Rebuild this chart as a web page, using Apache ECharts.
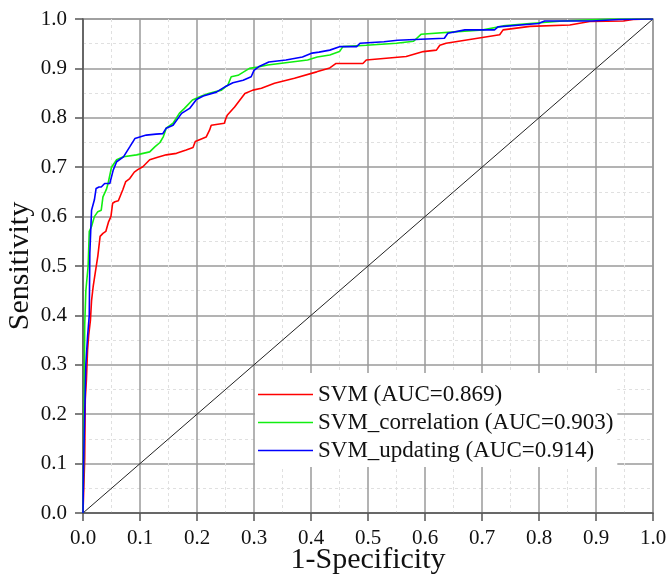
<!doctype html>
<html lang="en">
<head>
    <meta charset="utf-8">
    <title>ROC curves</title>
    <script src="https://cdn.jsdelivr.net/npm/echarts@6/dist/echarts.min.js"></script>
    <style>
        html, body { margin: 0; padding: 0; background: #fff; }
        #mychart { width: 666px; height: 574px; }
    </style>
</head>
<body>
    <div id="mychart"></div>

    <script type="text/javascript">
        // legend names
        var seriesNames = ['SVM (AUC=0.869)', 'SVM_correlation (AUC=0.903)', 'SVM_updating (AUC=0.914)'];
        var seriesColors = ['#ff0000', '#11ee11', '#0000ff'];

        // [1-specificity, sensitivity]
        var svmRoc = [
            [0, 0], [0.003, 0.11], [0.004, 0.23], [0.006, 0.27], [0.008, 0.33], [0.010, 0.36],
            [0.013, 0.39], [0.015, 0.43], [0.018, 0.46], [0.022, 0.49], [0.026, 0.52], [0.030, 0.56],
            [0.035, 0.566], [0.040, 0.57], [0.045, 0.59], [0.049, 0.60], [0.052, 0.627], [0.056, 0.63],
            [0.062, 0.632], [0.070, 0.655], [0.075, 0.671], [0.082, 0.677], [0.090, 0.69], [0.096, 0.695],
            [0.105, 0.701], [0.117, 0.715], [0.131, 0.72], [0.146, 0.725], [0.164, 0.728], [0.181, 0.735],
            [0.193, 0.74], [0.197, 0.752], [0.216, 0.761], [0.222, 0.775], [0.225, 0.785], [0.248, 0.789],
            [0.251, 0.80], [0.253, 0.805], [0.266, 0.822], [0.284, 0.849], [0.298, 0.856], [0.313, 0.86],
            [0.336, 0.87], [0.371, 0.88], [0.41, 0.893], [0.433, 0.901], [0.444, 0.91], [0.491, 0.91],
            [0.497, 0.917], [0.567, 0.924], [0.597, 0.934], [0.62, 0.937], [0.626, 0.947], [0.637, 0.951],
            [0.731, 0.968], [0.737, 0.978], [0.784, 0.985], [0.854, 0.988], [0.889, 0.995], [0.948, 0.996],
            [0.965, 0.999], [0.994, 1], [1, 1]
        ];
        var correlationRoc = [
            [0, 0], [0.001, 0.1], [0.002, 0.2], [0.003, 0.38], [0.005, 0.45], [0.009, 0.50],
            [0.011, 0.57], [0.015, 0.58], [0.02, 0.60], [0.026, 0.61], [0.032, 0.613], [0.035, 0.64],
            [0.041, 0.655], [0.044, 0.667], [0.05, 0.70], [0.059, 0.715], [0.071, 0.721], [0.094, 0.725],
            [0.117, 0.731], [0.126, 0.741], [0.135, 0.75], [0.141, 0.762], [0.146, 0.779], [0.158, 0.789],
            [0.169, 0.809], [0.178, 0.819], [0.192, 0.836], [0.208, 0.844], [0.22, 0.849], [0.243, 0.856],
            [0.254, 0.866], [0.26, 0.883], [0.272, 0.886], [0.292, 0.90], [0.307, 0.903], [0.324, 0.907],
            [0.394, 0.917], [0.411, 0.923], [0.433, 0.927], [0.45, 0.934], [0.456, 0.944], [0.497, 0.947],
            [0.55, 0.951], [0.58, 0.955], [0.593, 0.969], [0.676, 0.976], [0.702, 0.978], [0.737, 0.986],
            [0.784, 0.991], [0.842, 0.996], [0.924, 1], [1, 1]
        ];
        var updatingRoc = [
            [0, 0], [0.001, 0.1], [0.003, 0.2], [0.005, 0.30], [0.008, 0.357], [0.011, 0.40],
            [0.012, 0.526], [0.015, 0.613], [0.02, 0.634], [0.023, 0.657], [0.028, 0.66], [0.032, 0.66],
            [0.038, 0.667], [0.047, 0.667], [0.053, 0.694], [0.059, 0.711], [0.071, 0.721], [0.082, 0.741],
            [0.091, 0.758], [0.094, 0.762], [0.111, 0.765], [0.128, 0.767], [0.14, 0.768], [0.146, 0.779],
            [0.158, 0.785], [0.173, 0.809], [0.187, 0.819], [0.199, 0.837], [0.211, 0.844], [0.234, 0.852],
            [0.251, 0.864], [0.263, 0.871], [0.281, 0.876], [0.295, 0.883], [0.3, 0.896], [0.309, 0.904],
            [0.326, 0.913], [0.356, 0.917], [0.385, 0.923], [0.402, 0.931], [0.414, 0.933], [0.433, 0.937],
            [0.45, 0.944], [0.48, 0.944], [0.486, 0.951], [0.528, 0.954], [0.552, 0.957], [0.634, 0.961],
            [0.64, 0.971], [0.67, 0.978], [0.722, 0.978], [0.728, 0.984], [0.799, 0.991], [0.81, 0.996],
            [0.893, 0.996], [0.94, 0.999], [0.996, 1], [1, 1]
        ];
        var chanceLine = [[0, 0], [1, 1]];

        var fontName = 'Liberation Serif';

        function makeAxis(name, nameGap, labelMargin) {
            return {
                type: 'value',
                min: 0,
                max: 1,
                interval: 0.1,
                name: name,
                nameLocation: 'middle',
                nameGap: nameGap,
                nameMoveOverlap: false,
                nameTextStyle: { fontFamily: fontName, fontSize: 30, color: '#111' },
                axisLine: { show: true, lineStyle: { color: '#555', width: 1.5 } },
                axisTick: { show: true, inside: false, length: 8, lineStyle: { color: '#555', width: 1.5 } },
                axisLabel: {
                    fontFamily: fontName, fontSize: 21, color: '#111', margin: labelMargin,
                    formatter: function (v) { return v.toFixed(1); }
                },
                splitLine: { show: true, lineStyle: { color: '#9a9a9a', width: 1.5 } },
                minorTick: { show: false, splitNumber: 2 },
                minorSplitLine: { show: true, lineStyle: { color: '#e0e0e0', width: 1, type: [3, 3] } }
            };
        }

        var myChart = echarts.init(document.getElementById('mychart'));
        var option = {
            animation: false,
            grid: {
                left: 83, top: 19, right: 13, bottom: 61,
                containLabel: false, outerBoundsMode: 'none',
                show: true, borderColor: '#9a9a9a', borderWidth: 1.5, backgroundColor: '#fff'
            },
            xAxis: makeAxis('1-Specificity', 32, 15),
            yAxis: makeAxis('Sensitivity', 48, 16),
            legend: {
                data: seriesNames,
                orient: 'vertical',
                left: 255,
                top: 373,
                padding: [10, 4, 5, 3],
                backgroundColor: '#fff',
                itemGap: 5,
                itemWidth: 55,
                itemHeight: 1.5,
                icon: 'rect',
                textStyle: { fontFamily: fontName, fontSize: 23, color: '#111' }
            },
            series: [
                {
                    name: 'chance', type: 'line', data: chanceLine, symbol: 'none', silent: true,
                    lineStyle: { color: '#222', width: 1 }
                },
                {
                    name: seriesNames[0], type: 'line', data: svmRoc, symbol: 'none',
                    itemStyle: { color: seriesColors[0] }, lineStyle: { color: seriesColors[0], width: 1.6 }
                },
                {
                    name: seriesNames[1], type: 'line', data: correlationRoc, symbol: 'none',
                    itemStyle: { color: seriesColors[1] }, lineStyle: { color: seriesColors[1], width: 1.6 }
                },
                {
                    name: seriesNames[2], type: 'line', data: updatingRoc, symbol: 'none',
                    itemStyle: { color: seriesColors[2] }, lineStyle: { color: seriesColors[2], width: 1.6 }
                }
            ]
        };
        myChart.setOption(option);
    </script>
</body>
</html>
